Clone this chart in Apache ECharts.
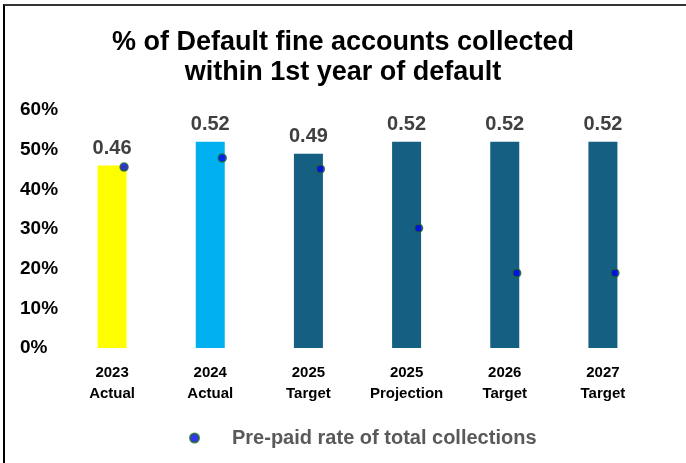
<!DOCTYPE html>
<html>
<head>
<meta charset="utf-8">
<script src="https://cdn.jsdelivr.net/npm/echarts@6/dist/echarts.min.js"></script>
<style>
  html, body { margin: 0; padding: 0; background: #fff; }
  #chart { width: 686px; height: 463px; }
  #frame {
    position: absolute; left: 3px; top: 4px; width: 683px; height: 459px;
    border-left: 2px solid #000; border-top: 2px solid #333;
    pointer-events: none;
  }
</style>
</head>
<body>
<div id="chart"></div>
<div id="frame"></div>
<script>
const categories = ['2023\nActual', '2024\nActual', '2025\nTarget', '2025\nProjection', '2026\nTarget', '2027\nTarget'];
const collectedRate = [0.46, 0.52, 0.49, 0.52, 0.52, 0.52];
const prepaidRate = [0.456, 0.479, 0.451, 0.302, 0.189, 0.189];
const barColors = ['#ffff00', '#00b0f0', '#156082', '#156082', '#156082', '#156082'];

const myChart = echarts.init(document.getElementById('chart'));

const option = {
  animation: false,
  title: {
    text: '% of Default fine accounts collected\nwithin 1st year of default',
    left: 'center',
    top: 23,
    textStyle: {
      fontFamily: 'Liberation Sans',
      fontSize: 27,
      fontWeight: 'bold',
      color: '#000',
      lineHeight: 30
    }
  },
  grid: {
    left: 63,
    right: 34,
    top: 110,
    bottom: 115
  },
  legend: {
    data: ['Pre-paid rate of total collections'],
    left: 184,
    top: 423,
    icon: 'circle',
    itemWidth: 9,
    itemHeight: 9,
    textStyle: {
      fontFamily: 'Liberation Sans',
      fontSize: 20,
      fontWeight: 'bold',
      color: '#595959',
      padding: [0, 0, 0, 28]
    }
  },
  xAxis: {
    type: 'category',
    data: categories,
    axisLine: { show: false },
    axisTick: { show: false },
    axisLabel: {
      interval: 0,
      margin: 14,
      fontFamily: 'Liberation Sans',
      fontSize: 15,
      fontWeight: 'bold',
      color: '#000',
      lineHeight: 21
    }
  },
  yAxis: {
    type: 'value',
    min: 0,
    max: 0.6,
    interval: 0.1,
    splitLine: { show: false },
    axisLine: { show: false },
    axisTick: { show: false },
    axisLabel: {
      align: 'left',
      margin: 43,
      fontFamily: 'Liberation Sans',
      fontSize: 19,
      fontWeight: 'bold',
      color: '#000',
      formatter: v => Math.round(v * 100) + '%'
    }
  },
  series: [
    {
      name: 'Collected',
      type: 'bar',
      data: collectedRate,
      barWidth: 29,
      itemStyle: {
        color: p => barColors[p.dataIndex]
      },
      label: {
        show: true,
        position: 'top',
        distance: 7,
        fontFamily: 'Liberation Sans',
        fontSize: 20,
        fontWeight: 'bold',
        color: '#404040',
        formatter: p => p.value.toFixed(2)
      }
    },
    {
      name: 'Pre-paid rate of total collections',
      type: 'scatter',
      data: prepaidRate,
      symbol: 'circle',
      symbolSize: 8,
      symbolOffset: [12, 0],
      itemStyle: {
        color: '#0000ee',
        borderColor: '#1d6b2c',
        borderWidth: 1.5
      },
      z: 5
    }
  ]
};

myChart.setOption(option);
</script>
</body>
</html>
